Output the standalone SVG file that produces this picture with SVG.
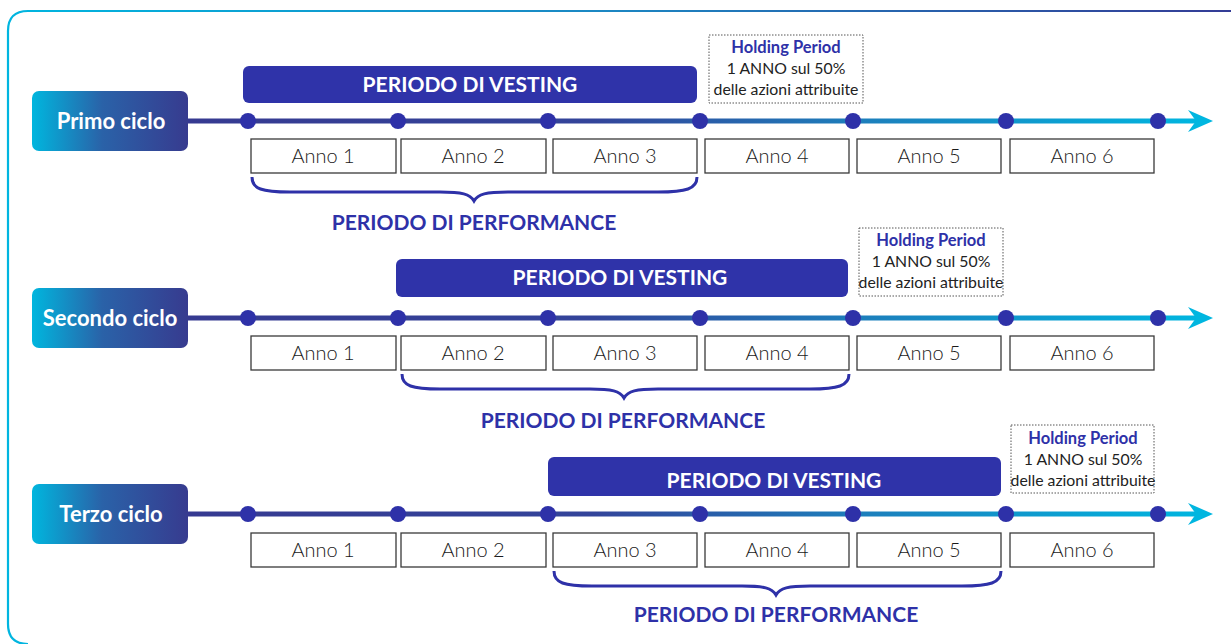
<svg xmlns="http://www.w3.org/2000/svg" width="1231" height="644" viewBox="0 0 1231 644">
<defs>
  <linearGradient id="lblGrad" x1="0" y1="0" x2="1" y2="0">
    <stop offset="0" stop-color="#00B6DE"/>
    <stop offset="0.45" stop-color="#2A62A8"/>
    <stop offset="1" stop-color="#373B8F"/>
  </linearGradient>
  <linearGradient id="lineGrad" gradientUnits="userSpaceOnUse" x1="188" y1="0" x2="1200" y2="0">
    <stop offset="0" stop-color="#363A91"/>
    <stop offset="0.4" stop-color="#33449A"/>
    <stop offset="0.65" stop-color="#1E7CBA"/>
    <stop offset="1" stop-color="#00B6E0"/>
  </linearGradient>
  <linearGradient id="borderGrad" gradientUnits="userSpaceOnUse" x1="0" y1="0" x2="1231" y2="0">
    <stop offset="0" stop-color="#00B6E0"/>
    <stop offset="0.5" stop-color="#1C86C2"/>
    <stop offset="1" stop-color="#343C96"/>
  </linearGradient>
  <style>
    .lbl { font-family: Lato, "Noto Sans", sans-serif; font-weight: bold; font-size: 22px; fill: #FFFFFF; text-anchor: middle; }
    .vest { fill: #2F33A9; }
    .vtxt { font-family: Lato, "Noto Sans", sans-serif; font-weight: bold; font-size: 21px; fill: #FFFFFF; text-anchor: middle; }
    .year { fill: #FFFFFF; stroke: #3A3A3A; stroke-width: 1.3; }
    .ytxt { font-family: Lato, "Noto Sans", sans-serif; font-weight: 300; font-size: 20px; fill: #1A1A1A; text-anchor: middle; }
    .dot { fill: #2E31A8; }
    .hold { fill: #FFFFFF; stroke: #555555; stroke-width: 1; stroke-dasharray: 1.5 1.5; }
    .htitle { font-family: Lato, "Noto Sans", sans-serif; font-weight: bold; font-size: 16.5px; fill: #2E31A8; text-anchor: middle; }
    .htxt { font-family: Lato, "Noto Sans", sans-serif; font-size: 15.8px; fill: #222222; text-anchor: middle; }
    .brace { fill: none; stroke: #2E31A8; stroke-width: 3; stroke-linecap: butt; }
    .perf { font-family: Lato, "Noto Sans", sans-serif; font-weight: bold; font-size: 21px; fill: #2E31A8; text-anchor: middle; }
    .tl { stroke: url(#lineGrad); stroke-width: 5; fill: none; }
    .arr { fill: #00B6E0; }
  </style>
</defs>
<rect width="1231" height="644" fill="#FFFFFF"/>
<path d="M1231,11 L28,11 Q8,11 8,31 L8,624 Q8,644 28,644" fill="none" stroke="url(#borderGrad)" stroke-width="2.2"/>

<g id="connectors">
  <line class="tl" x1="188" y1="121" x2="1196" y2="121"/>
  <path class="arr" d="M1213,121 L1188,110 L1196,121 L1188,132 Z"/>
  <line class="tl" x1="188" y1="318" x2="1196" y2="318"/>
  <path class="arr" d="M1213,318 L1188,307 L1196,318 L1188,329 Z"/>
  <line class="tl" x1="188" y1="514" x2="1196" y2="514"/>
  <path class="arr" d="M1213,514 L1188,503 L1196,514 L1188,525 Z"/>
</g>

<g id="cycle1">
  <rect x="32" y="91" width="156" height="60" rx="7" fill="url(#lblGrad)"/>
  <text class="lbl" x="111" y="129">Primo ciclo</text>
  <rect class="vest" x="243" y="66" width="454" height="37" rx="6"/>
  <text class="vtxt" x="470" y="92">PERIODO DI VESTING</text>
  <rect class="hold" x="709" y="35" width="154" height="68"/>
  <text class="htitle" x="786" y="53">Holding Period</text>
  <text class="htxt" x="786" y="74">1 ANNO sul 50%</text>
  <text class="htxt" x="786" y="95">delle azioni attribuite</text>
  <circle class="dot" cx="248" cy="121" r="8"/>
  <circle class="dot" cx="398" cy="121" r="8"/>
  <circle class="dot" cx="548" cy="121" r="8"/>
  <circle class="dot" cx="700" cy="121" r="8"/>
  <circle class="dot" cx="853" cy="121" r="8"/>
  <circle class="dot" cx="1006" cy="121" r="8"/>
  <circle class="dot" cx="1158" cy="121" r="8"/>
  <rect class="year" x="251" y="139" width="145" height="34"/>
  <rect class="year" x="401" y="139" width="145" height="34"/>
  <rect class="year" x="553" y="139" width="144" height="34"/>
  <rect class="year" x="705" y="139" width="144" height="34"/>
  <rect class="year" x="857" y="139" width="144" height="34"/>
  <rect class="year" x="1010" y="139" width="144" height="34"/>
  <text class="ytxt" x="323" y="163">Anno 1</text>
  <text class="ytxt" x="473" y="163">Anno 2</text>
  <text class="ytxt" x="625" y="163">Anno 3</text>
  <text class="ytxt" x="777" y="163">Anno 4</text>
  <text class="ytxt" x="929" y="163">Anno 5</text>
  <text class="ytxt" x="1082" y="163">Anno 6</text>
  <path class="brace" d="M252,177 C252,189 262,192 290,192 L440,192 C462,192 470,194 474,201 C478,194 486,192 508,192 L658,192 C686,192 697,189 697,177"/>
  <text class="perf" x="474" y="230">PERIODO DI PERFORMANCE</text>
</g>

<g id="cycle2">
  <rect x="32" y="288" width="156" height="60" rx="7" fill="url(#lblGrad)"/>
  <text class="lbl" x="110" y="326">Secondo ciclo</text>
  <rect class="vest" x="396" y="259" width="452" height="38" rx="6"/>
  <text class="vtxt" x="620" y="285">PERIODO DI VESTING</text>
  <rect class="hold" x="859" y="228" width="144" height="68"/>
  <text class="htitle" x="931" y="246">Holding Period</text>
  <text class="htxt" x="931" y="267">1 ANNO sul 50%</text>
  <text class="htxt" x="931" y="288">delle azioni attribuite</text>
  <circle class="dot" cx="248" cy="318" r="8"/>
  <circle class="dot" cx="398" cy="318" r="8"/>
  <circle class="dot" cx="548" cy="318" r="8"/>
  <circle class="dot" cx="700" cy="318" r="8"/>
  <circle class="dot" cx="853" cy="318" r="8"/>
  <circle class="dot" cx="1006" cy="318" r="8"/>
  <circle class="dot" cx="1158" cy="318" r="8"/>
  <rect class="year" x="251" y="336" width="145" height="34"/>
  <rect class="year" x="401" y="336" width="145" height="34"/>
  <rect class="year" x="553" y="336" width="144" height="34"/>
  <rect class="year" x="705" y="336" width="144" height="34"/>
  <rect class="year" x="857" y="336" width="144" height="34"/>
  <rect class="year" x="1010" y="336" width="144" height="34"/>
  <text class="ytxt" x="323" y="360">Anno 1</text>
  <text class="ytxt" x="473" y="360">Anno 2</text>
  <text class="ytxt" x="625" y="360">Anno 3</text>
  <text class="ytxt" x="777" y="360">Anno 4</text>
  <text class="ytxt" x="929" y="360">Anno 5</text>
  <text class="ytxt" x="1082" y="360">Anno 6</text>
  <path class="brace" d="M402,374 C402,386 412,389 440,389 L590,389 C612,389 620,391 624,398 C628,391 636,389 658,389 L810,389 C838,389 849,386 849,374"/>
  <text class="perf" x="623" y="428">PERIODO DI PERFORMANCE</text>
</g>

<g id="cycle3">
  <rect x="32" y="484" width="156" height="60" rx="7" fill="url(#lblGrad)"/>
  <text class="lbl" x="111" y="522">Terzo ciclo</text>
  <rect class="vest" x="548" y="457" width="453" height="39" rx="6"/>
  <text class="vtxt" x="774" y="488">PERIODO DI VESTING</text>
  <rect class="hold" x="1011" y="425" width="143" height="68"/>
  <text class="htitle" x="1083" y="444">Holding Period</text>
  <text class="htxt" x="1083" y="465">1 ANNO sul 50%</text>
  <text class="htxt" x="1083" y="486">delle azioni attribuite</text>
  <circle class="dot" cx="248" cy="514" r="8"/>
  <circle class="dot" cx="398" cy="514" r="8"/>
  <circle class="dot" cx="548" cy="514" r="8"/>
  <circle class="dot" cx="700" cy="514" r="8"/>
  <circle class="dot" cx="853" cy="514" r="8"/>
  <circle class="dot" cx="1006" cy="514" r="8"/>
  <circle class="dot" cx="1158" cy="514" r="8"/>
  <rect class="year" x="251" y="533" width="145" height="34"/>
  <rect class="year" x="401" y="533" width="145" height="34"/>
  <rect class="year" x="553" y="533" width="144" height="34"/>
  <rect class="year" x="705" y="533" width="144" height="34"/>
  <rect class="year" x="857" y="533" width="144" height="34"/>
  <rect class="year" x="1010" y="533" width="144" height="34"/>
  <text class="ytxt" x="323" y="557">Anno 1</text>
  <text class="ytxt" x="473" y="557">Anno 2</text>
  <text class="ytxt" x="625" y="557">Anno 3</text>
  <text class="ytxt" x="777" y="557">Anno 4</text>
  <text class="ytxt" x="929" y="557">Anno 5</text>
  <text class="ytxt" x="1082" y="557">Anno 6</text>
  <path class="brace" d="M554,571 C554,583 564,586 592,586 L742,586 C764,586 772,588 776,595 C780,588 788,586 810,586 L962,586 C990,586 1001,583 1001,571"/>
  <text class="perf" x="776" y="622">PERIODO DI PERFORMANCE</text>
</g>
</svg>
